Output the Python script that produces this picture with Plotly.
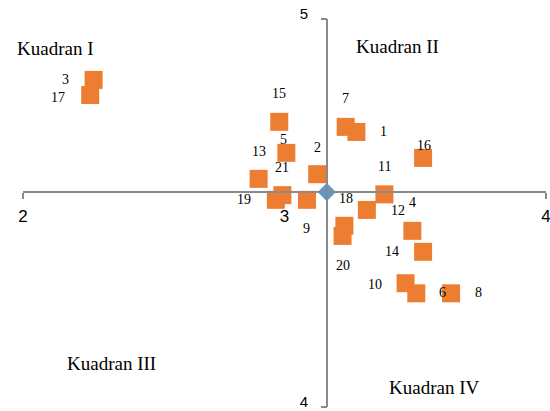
import numpy as np
import plotly.graph_objects as go

# ---- data ----
point_ids = [str(i) for i in range(1, 22)]
x_vals = [3.275, 3.125, 2.270, 3.489, 3.007, 3.504, 3.234, 3.637, 3.086, 3.463, 3.382,
          3.315, 2.901, 3.530, 2.980, 3.530, 2.257, 3.229, 2.967, 3.222, 2.992]
y_vals = [4.709, 4.600, 4.843, 4.454, 4.655, 4.293, 4.722, 4.293, 4.534, 4.319, 4.548,
          4.508, 4.588, 4.400, 4.735, 4.642, 4.804, 4.467, 4.534, 4.441, 4.546]
x_ticks = [2, 3, 4]
y_ticks = [4, 5]
quadrant_names = ["Kuadran I", "Kuadran II", "Kuadran III", "Kuadran IV"]

# ---- style / layout helpers ----
X_RANGE = [2, 4]
Y_RANGE = [4, 5]
mean_x = float(np.mean(x_vals))
mean_y = float(np.mean(y_vals))
pos_x = (mean_x - X_RANGE[0]) / (X_RANGE[1] - X_RANGE[0])
pos_y = (mean_y - Y_RANGE[0]) / (Y_RANGE[1] - Y_RANGE[0])

# label pixel offsets (dx right, dy down) per point
label_off = [(27, 0), (0, -27), (-28, 0), (0, -28), (-3, -13), (26, -1), (0, -28), (27, -1),
             (0, 29), (-31, 1), (0, -28), (31, 1), (0, -27), (-31, 0), (0, -28), (1, -12),
             (-32, 2), (2, -27), (-32, 0), (0, 30), (0, -28)]
quad_pos = [(0.063, 0.925), (0.717, 0.929), (0.170, 0.113), (0.786, 0.051)]

ORANGE = "#ED7D31"
BLUE = "#5B9BD5"
AXIS = "#8a8a8a"
SERIF = "Liberation Serif, Times New Roman, serif"
SANS = "Liberation Sans, Arial, sans-serif"

fig = go.Figure()
fig.add_trace(go.Scatter(
    x=x_vals, y=y_vals, mode="markers",
    marker=dict(symbol="square", size=18, color=ORANGE, line=dict(width=0)),
    xaxis="x", yaxis="y", hoverinfo="skip", showlegend=False))
fig.add_trace(go.Scatter(
    x=[mean_x], y=[mean_y], mode="markers",
    marker=dict(symbol="diamond", size=14, color=BLUE, line=dict(width=0)),
    xaxis="x2", yaxis="y2", hoverinfo="skip", showlegend=False))

annotations = []
for pid, xv, yv, (dx, dy) in zip(point_ids, x_vals, y_vals, label_off):
    annotations.append(dict(x=xv, y=yv, xref="x", yref="y", text=pid, showarrow=False,
                            xshift=dx, yshift=-dy,
                            font=dict(family=SERIF, size=14, color="black")))
for name, (px, py) in zip(quadrant_names, quad_pos):
    annotations.append(dict(x=px, y=py, xref="paper", yref="paper", text=name,
                            showarrow=False, xanchor="center", yanchor="middle",
                            font=dict(family=SERIF, size=19, color="black")))

common = dict(showgrid=False, zeroline=False, automargin=False)
fig.update_layout(
    width=550, height=411,
    margin=dict(l=23, r=4, t=19, b=4),
    plot_bgcolor="white", paper_bgcolor="white",
    showlegend=False,
    xaxis=dict(range=X_RANGE, tickvals=x_ticks, ticktext=[str(t) for t in x_ticks],
               showline=True, linecolor=AXIS, linewidth=1.5, ticks="",
               anchor="free", position=pos_y, ticklabelstandoff=9,
               ticklabeloverflow="allow",
               tickfont=dict(family=SANS, size=17, color="black"), **common),
    yaxis=dict(range=Y_RANGE, tickvals=y_ticks, ticktext=[str(t) for t in y_ticks],
               showline=True, linecolor=AXIS, linewidth=1.5, ticks="",
               anchor="free", position=pos_x, ticklabelstandoff=15,
               ticklabeloverflow="allow", ticklabelshift=-5,
               tickfont=dict(family=SANS, size=15, color="black"), **common),
    xaxis2=dict(range=X_RANGE, overlaying="x", anchor="free", position=pos_y,
                tickvals=[X_RANGE[0], X_RANGE[1]], ticks="outside", ticklen=6,
                tickwidth=1.5, tickcolor=AXIS, showticklabels=False, showline=False,
                **common),
    yaxis2=dict(range=Y_RANGE, overlaying="y", anchor="free", position=pos_x,
                tickvals=[Y_RANGE[0], Y_RANGE[1]], ticks="outside", ticklen=6,
                tickwidth=1.5, tickcolor=AXIS, showticklabels=False, showline=False,
                **common),
    annotations=annotations,
)

fig.write_html("out.html", config={"displayModeBar": False},
               post_script="document.body.style.margin='0';")
